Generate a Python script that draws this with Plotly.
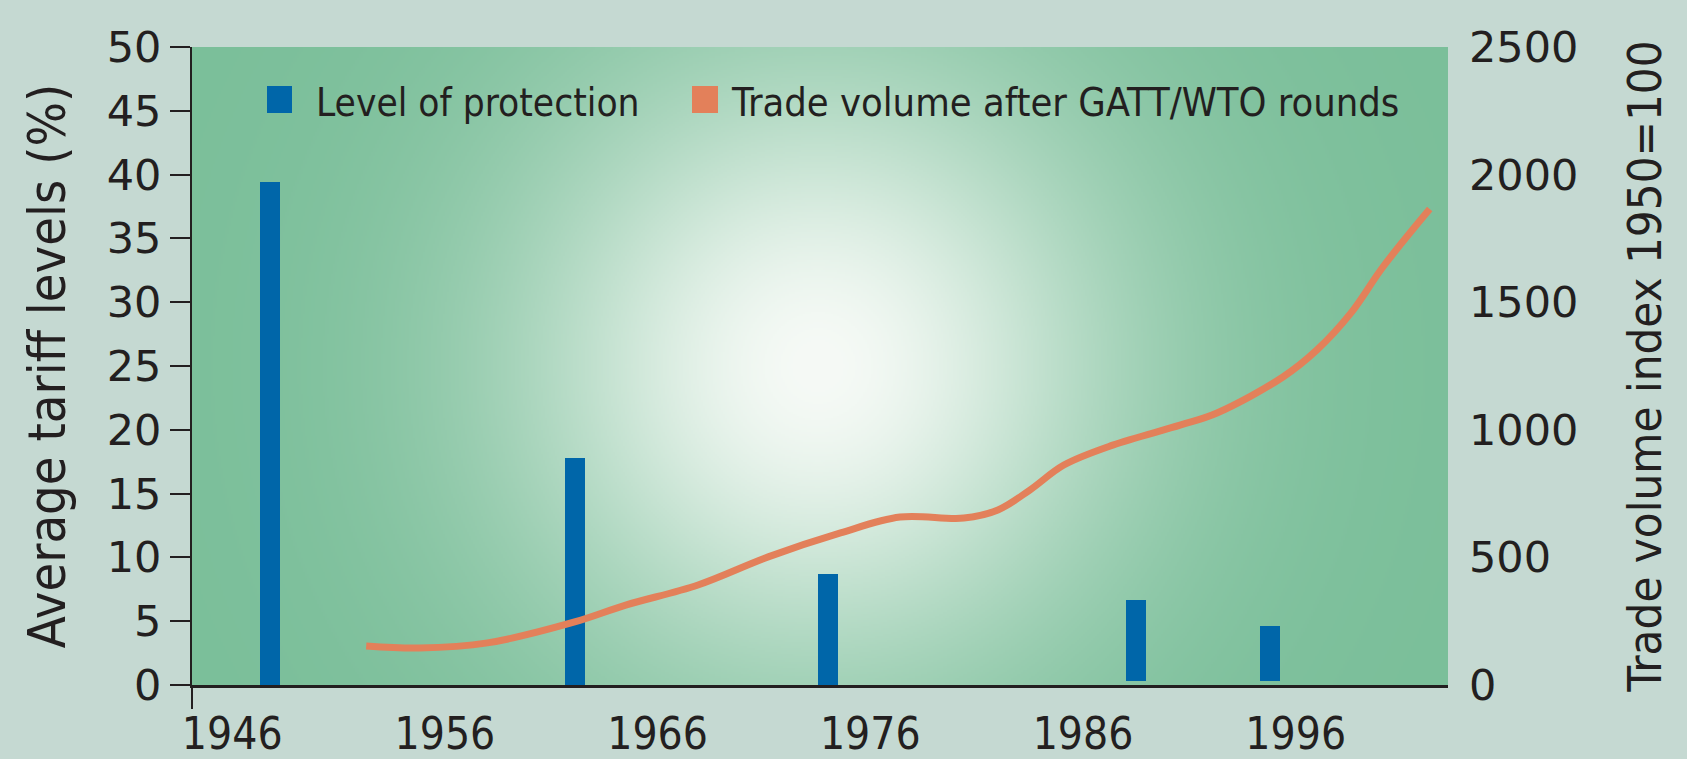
import base64, struct, zlib
import numpy as np
import plotly.graph_objects as go

# ---------------- data ----------------
round_years = [1947.8, 1962.1, 1974.0, 1988.5, 1994.8]
tariff_levels = [39.4, 17.8, 8.7, 6.7, 4.6]
tariff_base = [0, 0, 0, 0.3, 0.3]

trade_years = [1952.3, 1954.8, 1958.0, 1962.1, 1964.5, 1967.9, 1971.2, 1974.6,
               1977.4, 1980.4, 1982.0, 1983.5, 1985.1, 1987.4, 1990.6, 1992.3,
               1995.4, 1997.0, 1998.6, 2000.1, 2002.3]
trade_index = [153, 145, 165, 247, 313, 392, 502, 596,
               658, 654, 686, 764, 862, 940, 1019, 1066,
               1207, 1313, 1458, 1638, 1865]

x_ticks = [1946, 1956, 1966, 1976, 1986, 1996]
left_ticks = list(range(0, 51, 5))
right_ticks = list(range(0, 2501, 500))

# ---------------- style ----------------
INK = "#231f20"
BLUE = "#0066a9"
ORANGE = "#e3805a"
PAPER = "#c5d9d2"
EDGE = (123, 191, 154)
CENTER = (246, 250, 246)
COND = "Liberation Sans Narrow, DejaVu Sans Condensed, Roboto Condensed, sans-serif"

W, H = 1687, 759
ML, MR, MT, MB = 192, 239, 47, 74
PW, PH = W - ML - MR, H - MT - MB


def gradient_png():
    iw, ih = 628, 319
    xs = (np.arange(iw) + 0.5) * PW / iw
    ys = (np.arange(ih) + 0.5) * PH / ih
    X, Y = np.meshgrid(xs, ys)
    r = np.sqrt((X - 626) ** 2 + (Y - 319) ** 2)
    mix = np.exp(-(r / 300.0) ** 2)
    img = np.zeros((ih, iw, 3), dtype=np.uint8)
    for c in range(3):
        img[..., c] = np.clip(EDGE[c] + (CENTER[c] - EDGE[c]) * mix, 0, 255).astype(np.uint8)
    raw = b"".join(b"\x00" + img[i].tobytes() for i in range(ih))

    def chunk(tag, data):
        return struct.pack(">I", len(data)) + tag + data + struct.pack(">I", zlib.crc32(tag + data) & 0xffffffff)

    png = b"\x89PNG\r\n\x1a\n"
    png += chunk(b"IHDR", struct.pack(">IIBBBBB", iw, ih, 8, 2, 0, 0, 0))
    png += chunk(b"IDAT", zlib.compress(raw, 9))
    png += chunk(b"IEND", b"")
    return "data:image/png;base64," + base64.b64encode(png).decode()


bar_len = [t - b for t, b in zip(tariff_levels, tariff_base)]

fig = go.Figure()
fig.add_trace(go.Bar(
    x=round_years, y=bar_len, base=tariff_base, width=0.94,
    marker=dict(color=BLUE, line=dict(width=0)),
    name="Level of protection", showlegend=False, yaxis="y",
))
fig.add_trace(go.Scatter(
    x=trade_years, y=trade_index, mode="lines",
    line=dict(color=ORANGE, width=7, shape="spline", smoothing=1.0),
    name="Trade volume after GATT/WTO rounds", showlegend=False, yaxis="y2",
))


def px_x(p):
    return (p - ML) / PW


def px_y(p):
    return 1 - (p - MT) / PH


shapes = [
    # left axis extension below the baseline
    dict(type="line", xref="paper", yref="paper", x0=0, x1=0, y0=0, y1=-24 / PH,
         line=dict(color=INK, width=2)),
    # legend swatches
    dict(type="rect", xref="paper", yref="paper", x0=px_x(267), x1=px_x(292),
         y0=px_y(113), y1=px_y(86), fillcolor=BLUE, line=dict(width=0)),
    dict(type="rect", xref="paper", yref="paper", x0=px_x(692), x1=px_x(718),
         y0=px_y(113), y1=px_y(86), fillcolor=ORANGE, line=dict(width=0)),
]
annotations = [
    dict(text="Level of protection", xref="paper", yref="paper", x=px_x(314), y=px_y(102),
         xanchor="left", yanchor="middle", showarrow=False,
         font=dict(family=COND, size=38.5, color=INK)),
    dict(text="Trade volume after GATT/WTO rounds", xref="paper", yref="paper", x=px_x(729),
         y=px_y(102), xanchor="left", yanchor="middle", showarrow=False,
         font=dict(family=COND, size=39.5, color=INK)),
]

fig.update_layout(
    width=W, height=H,
    margin=dict(l=ML, r=MR, t=MT, b=MB, pad=0, autoexpand=False),
    paper_bgcolor=PAPER, plot_bgcolor="rgb(123,191,154)",
    showlegend=False, bargap=0,
    images=[dict(source=gradient_png(), xref="paper", yref="paper", x=0, y=1,
                 sizex=1, sizey=1, xanchor="left", yanchor="top",
                 sizing="stretch", layer="below")],
    shapes=shapes, annotations=annotations,
    xaxis=dict(range=[1944.11, 2003.16], tickvals=x_ticks, ticks="", automargin=False,
               showgrid=False, zeroline=False, showline=True, linecolor=INK, linewidth=3,
               tickfont=dict(family=COND, size=44, color=INK), ticklabelstandoff=8),
    yaxis=dict(range=[0, 50], tickvals=left_ticks, ticks="outside", ticklen=20,
               tickwidth=2, tickcolor=INK, showgrid=False, zeroline=False, automargin=False,
               showline=True, linecolor=INK, linewidth=2,
               tickfont=dict(family="DejaVu Sans", size=43, color=INK),
               title=dict(text="Average tariff levels (%)", standoff=24,
                          font=dict(family=COND, size=52, color=INK))),
    yaxis2=dict(range=[0, 2500], tickvals=right_ticks, overlaying="y", side="right",
                ticks="", showgrid=False, zeroline=False, showline=False, automargin=False,
                tickfont=dict(family="DejaVu Sans", size=43, color=INK), ticklabelstandoff=20,
                title=dict(text="Trade volume index 1950=100", standoff=50,
                           font=dict(family=COND, size=47, color=INK))),
)

fig.write_html("out.html", config={"displayModeBar": False},
               post_script="document.body.style.margin='0';document.body.style.overflow='hidden';")
